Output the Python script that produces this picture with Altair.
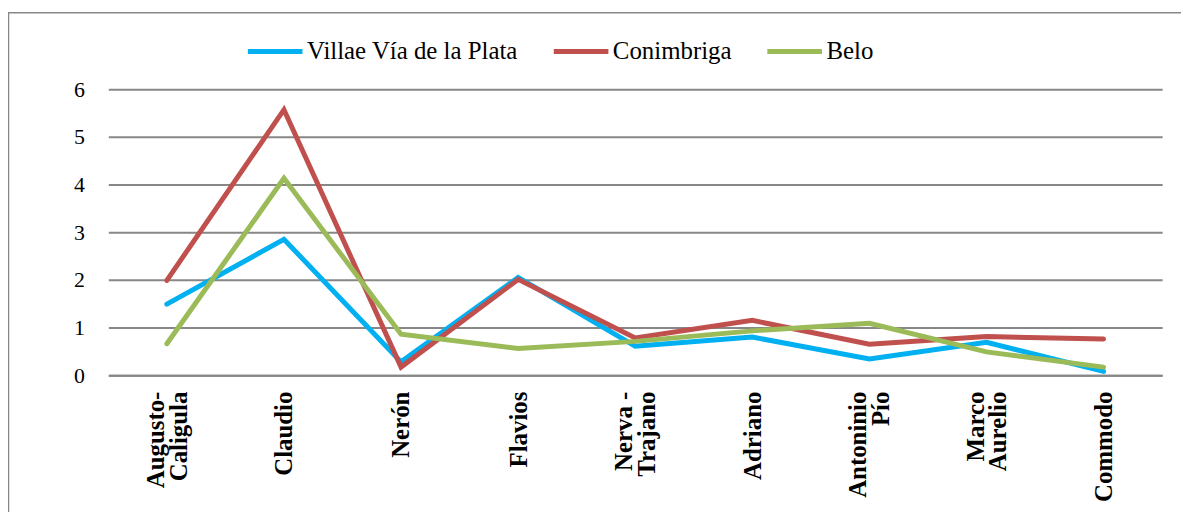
import altair as alt
import pandas as pd

categories = ["Augusto-\nCaligula", "Claudio", "Nerón", "Flavios", "Nerva -\nTrajano",
              "Adriano", "Antoninio\nPío", "Marco\nAurelio", "Commodo"]
series_names = ["Villae Vía de la Plata", "Conimbriga", "Belo"]
villae = [1.49, 2.85, 0.28, 2.05, 0.61, 0.80, 0.34, 0.69, 0.08]
conimbriga = [1.99, 5.57, 0.17, 2.01, 0.78, 1.15, 0.65, 0.81, 0.76]
belo = [0.66, 4.13, 0.86, 0.56, 0.71, 0.93, 1.09, 0.49, 0.17]
colors = ["#00B0F0", "#C0504D", "#9BBB59"]
y_ticks = [0, 1, 2, 3, 4, 5, 6]

rows = []
for name, vals in zip(series_names, [villae, conimbriga, belo]):
    for i, (c, v) in enumerate(zip(categories, vals)):
        rows.append({"serie": name, "periodo": c, "valor": v, "order": i})
df = pd.DataFrame(rows)

FONT = "Liberation Serif, Times New Roman, serif"

lines = alt.Chart(df).mark_line(strokeWidth=5, strokeCap="round").encode(
    x=alt.X("periodo:N", sort=categories, title=None,
            scale=alt.Scale(type="point", padding=0.5),
            axis=alt.Axis(labelAngle=-90, labelFont=FONT, labelFontSize=25,
                          labelFontWeight="bold", labelColor="#000000",
                          labelExpr="split(datum.label, '\\n')", labelLineHeight=23,
                          labelOffset={"expr": "indexof(datum.value, '\\n') >= 0 ? -11.5 : 0"},
                          labelPadding=16, ticks=False, domain=True,
                          domainColor="#878787", domainWidth=2, grid=False,
                          labelLimit=300)),
    y=alt.Y("valor:Q", title=None,
            scale=alt.Scale(domain=[0, 6], nice=False),
            axis=alt.Axis(values=y_ticks, labelFont=FONT, labelFontSize=22,
                          labelColor="#000000", labelPadding=24, ticks=False,
                          domain=False, grid=True, gridColor="#878787", gridWidth=2,
                          format="d")),
    color=alt.Color("serie:N", sort=series_names, title=None,
                    scale=alt.Scale(domain=series_names, range=colors),
                    legend=alt.Legend(orient="none", legendX=138, legendY=-68,
                                      direction="horizontal", symbolType="stroke",
                                      symbolSize=3025, symbolStrokeWidth=5,
                                      labelFont=FONT, labelFontSize=25,
                                      labelColor="#000000", labelOffset=2,
                                      labelLimit=400, columnPadding=25)),
    order=alt.Order("order:Q"),
)

border_df = pd.DataFrame({"b": [1]})
border = alt.Chart(border_df).mark_rect(fill=None, stroke="#878787", strokeWidth=1.5,
                                        clip=False).encode(
    x=alt.value(-100.5), x2=alt.value(1300), y=alt.value(-77), y2=alt.value(600)
)

chart = alt.layer(border, lines).properties(
    width=1061, height=288,
    padding={"left": 101, "top": 80, "right": 19, "bottom": 136},
    autosize=alt.AutoSizeParams(type="none"),
).configure(font=FONT).configure_view(stroke=None)

chart.save("out.html", embed_options={"renderer": "svg", "actions": False})
